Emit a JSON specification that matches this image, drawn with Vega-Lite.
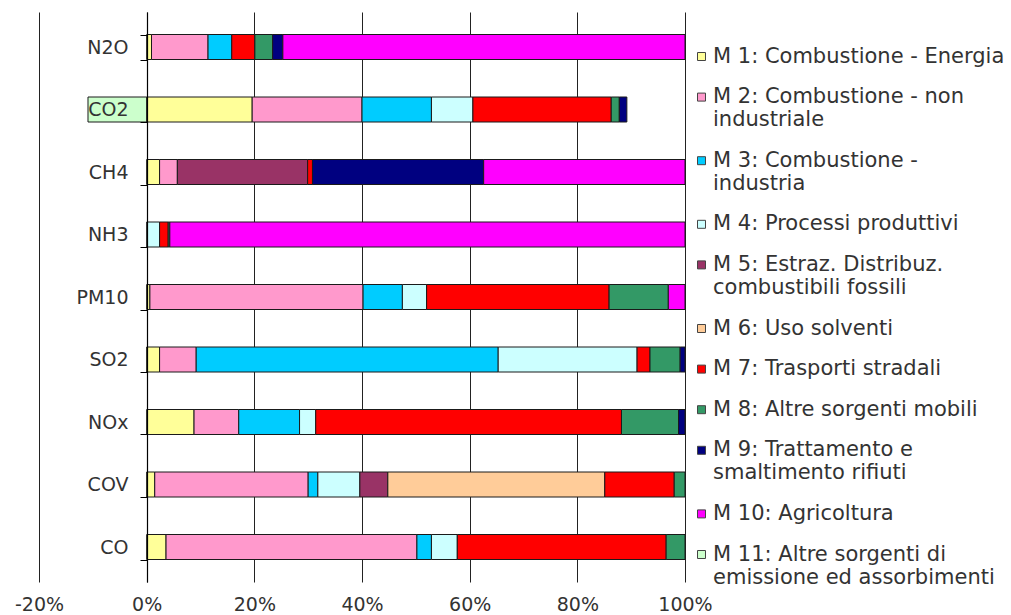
{
  "$schema": "https://vega.github.io/schema/vega-lite/v6.json",
  "width": 646,
  "height": 570,
  "autosize": {"type": "none"},
  "padding": {"left": 39, "top": 12, "right": 326, "bottom": 33},
  "background": "white",
  "config": {
    "view": {"stroke": null},
    "font": "DejaVu Sans"
  },
  "data": {
    "values": [
      {"inquinante": "N2O", "m": 1, "fonte": "M 1: Combustione - Energia", "quota": 0.9},
      {"inquinante": "N2O", "m": 2, "fonte": "M 2: Combustione - non industriale", "quota": 10.5},
      {"inquinante": "N2O", "m": 3, "fonte": "M 3: Combustione - industria", "quota": 4.4},
      {"inquinante": "N2O", "m": 7, "fonte": "M 7: Trasporti stradali", "quota": 4.3},
      {"inquinante": "N2O", "m": 8, "fonte": "M 8: Altre sorgenti mobili", "quota": 3.3},
      {"inquinante": "N2O", "m": 9, "fonte": "M 9: Trattamento e smaltimento rifiuti", "quota": 1.9},
      {"inquinante": "N2O", "m": 10, "fonte": "M 10: Agricoltura", "quota": 74.7},

      {"inquinante": "CO2", "m": 1, "fonte": "M 1: Combustione - Energia", "quota": 19.6},
      {"inquinante": "CO2", "m": 2, "fonte": "M 2: Combustione - non industriale", "quota": 20.4},
      {"inquinante": "CO2", "m": 3, "fonte": "M 3: Combustione - industria", "quota": 12.9},
      {"inquinante": "CO2", "m": 4, "fonte": "M 4: Processi produttivi", "quota": 7.7},
      {"inquinante": "CO2", "m": 7, "fonte": "M 7: Trasporti stradali", "quota": 25.7},
      {"inquinante": "CO2", "m": 8, "fonte": "M 8: Altre sorgenti mobili", "quota": 1.5},
      {"inquinante": "CO2", "m": 9, "fonte": "M 9: Trattamento e smaltimento rifiuti", "quota": 1.4},
      {"inquinante": "CO2", "m": 11, "fonte": "M 11: Altre sorgenti di emissione ed assorbimenti", "quota": -10.9},

      {"inquinante": "CH4", "m": 1, "fonte": "M 1: Combustione - Energia", "quota": 2.4},
      {"inquinante": "CH4", "m": 2, "fonte": "M 2: Combustione - non industriale", "quota": 3.3},
      {"inquinante": "CH4", "m": 5, "fonte": "M 5: Estraz. Distribuz. combustibili fossili", "quota": 24.2},
      {"inquinante": "CH4", "m": 7, "fonte": "M 7: Trasporti stradali", "quota": 0.9},
      {"inquinante": "CH4", "m": 9, "fonte": "M 9: Trattamento e smaltimento rifiuti", "quota": 31.8},
      {"inquinante": "CH4", "m": 10, "fonte": "M 10: Agricoltura", "quota": 37.4},

      {"inquinante": "NH3", "m": 4, "fonte": "M 4: Processi produttivi", "quota": 2.4},
      {"inquinante": "NH3", "m": 7, "fonte": "M 7: Trasporti stradali", "quota": 1.6},
      {"inquinante": "NH3", "m": 8, "fonte": "M 8: Altre sorgenti mobili", "quota": 0.3},
      {"inquinante": "NH3", "m": 10, "fonte": "M 10: Agricoltura", "quota": 95.7},

      {"inquinante": "PM10", "m": 1, "fonte": "M 1: Combustione - Energia", "quota": 0.6},
      {"inquinante": "PM10", "m": 2, "fonte": "M 2: Combustione - non industriale", "quota": 39.6},
      {"inquinante": "PM10", "m": 3, "fonte": "M 3: Combustione - industria", "quota": 7.3},
      {"inquinante": "PM10", "m": 4, "fonte": "M 4: Processi produttivi", "quota": 4.5},
      {"inquinante": "PM10", "m": 7, "fonte": "M 7: Trasporti stradali", "quota": 33.9},
      {"inquinante": "PM10", "m": 8, "fonte": "M 8: Altre sorgenti mobili", "quota": 11.0},
      {"inquinante": "PM10", "m": 10, "fonte": "M 10: Agricoltura", "quota": 3.1},

      {"inquinante": "SO2", "m": 1, "fonte": "M 1: Combustione - Energia", "quota": 2.4},
      {"inquinante": "SO2", "m": 2, "fonte": "M 2: Combustione - non industriale", "quota": 6.8},
      {"inquinante": "SO2", "m": 3, "fonte": "M 3: Combustione - industria", "quota": 56.1},
      {"inquinante": "SO2", "m": 4, "fonte": "M 4: Processi produttivi", "quota": 25.8},
      {"inquinante": "SO2", "m": 7, "fonte": "M 7: Trasporti stradali", "quota": 2.4},
      {"inquinante": "SO2", "m": 8, "fonte": "M 8: Altre sorgenti mobili", "quota": 5.6},
      {"inquinante": "SO2", "m": 9, "fonte": "M 9: Trattamento e smaltimento rifiuti", "quota": 0.9},

      {"inquinante": "NOx", "m": 1, "fonte": "M 1: Combustione - Energia", "quota": 8.8},
      {"inquinante": "NOx", "m": 2, "fonte": "M 2: Combustione - non industriale", "quota": 8.3},
      {"inquinante": "NOx", "m": 3, "fonte": "M 3: Combustione - industria", "quota": 11.3},
      {"inquinante": "NOx", "m": 4, "fonte": "M 4: Processi produttivi", "quota": 3.0},
      {"inquinante": "NOx", "m": 7, "fonte": "M 7: Trasporti stradali", "quota": 56.8},
      {"inquinante": "NOx", "m": 8, "fonte": "M 8: Altre sorgenti mobili", "quota": 10.6},
      {"inquinante": "NOx", "m": 9, "fonte": "M 9: Trattamento e smaltimento rifiuti", "quota": 1.2},

      {"inquinante": "COV", "m": 1, "fonte": "M 1: Combustione - Energia", "quota": 1.5},
      {"inquinante": "COV", "m": 2, "fonte": "M 2: Combustione - non industriale", "quota": 28.5},
      {"inquinante": "COV", "m": 3, "fonte": "M 3: Combustione - industria", "quota": 1.8},
      {"inquinante": "COV", "m": 4, "fonte": "M 4: Processi produttivi", "quota": 7.8},
      {"inquinante": "COV", "m": 5, "fonte": "M 5: Estraz. Distribuz. combustibili fossili", "quota": 5.2},
      {"inquinante": "COV", "m": 6, "fonte": "M 6: Uso solventi", "quota": 40.3},
      {"inquinante": "COV", "m": 7, "fonte": "M 7: Trasporti stradali", "quota": 12.9},
      {"inquinante": "COV", "m": 8, "fonte": "M 8: Altre sorgenti mobili", "quota": 2.0},

      {"inquinante": "CO", "m": 1, "fonte": "M 1: Combustione - Energia", "quota": 3.6},
      {"inquinante": "CO", "m": 2, "fonte": "M 2: Combustione - non industriale", "quota": 46.6},
      {"inquinante": "CO", "m": 3, "fonte": "M 3: Combustione - industria", "quota": 2.7},
      {"inquinante": "CO", "m": 4, "fonte": "M 4: Processi produttivi", "quota": 4.8},
      {"inquinante": "CO", "m": 7, "fonte": "M 7: Trasporti stradali", "quota": 38.8},
      {"inquinante": "CO", "m": 8, "fonte": "M 8: Altre sorgenti mobili", "quota": 3.5}
    ]
  },
  "mark": {"type": "bar", "stroke": "#1a1a1a", "strokeWidth": 1},
  "encoding": {
    "y": {
      "field": "inquinante",
      "type": "nominal",
      "sort": ["N2O", "CO2", "CH4", "NH3", "PM10", "SO2", "NOx", "COV", "CO"],
      "scale": {"paddingInner": 0.6, "paddingOuter": 0.36},
      "axis": {
        "title": null,
        "offset": -108,
        "zindex": 1,
        "domainColor": "#000000",
        "domainWidth": 1.2,
        "tickBand": "extent",
        "tickColor": "#000000",
        "tickSize": 7,
        "labelFontSize": 19,
        "labelColor": "#333333",
        "labelPadding": 12,
        "grid": false
      }
    },
    "x": {
      "field": "quota",
      "type": "quantitative",
      "stack": "zero",
      "scale": {"domain": [-20, 100], "nice": false},
      "axis": {
        "title": null,
        "values": [-20, 0, 20, 40, 60, 80, 100],
        "labelExpr": "datum.value + '%'",
        "labelFlush": false,
        "labelOverlap": false,
        "grid": true,
        "gridColor": "#222222",
        "gridWidth": 1,
        "domain": false,
        "ticks": false,
        "labelFontSize": 19,
        "labelColor": "#333333",
        "labelPadding": 13
      }
    },
    "order": {"field": "m", "type": "quantitative", "sort": "ascending"},
    "color": {
      "field": "fonte",
      "type": "nominal",
      "scale": {
        "domain": [
          "M 1: Combustione - Energia",
          "M 2: Combustione - non industriale",
          "M 3: Combustione - industria",
          "M 4: Processi produttivi",
          "M 5: Estraz. Distribuz. combustibili fossili",
          "M 6: Uso solventi",
          "M 7: Trasporti stradali",
          "M 8: Altre sorgenti mobili",
          "M 9: Trattamento e smaltimento rifiuti",
          "M 10: Agricoltura",
          "M 11: Altre sorgenti di emissione ed assorbimenti"
        ],
        "range": ["#FFFF99", "#FF99CC", "#00CCFF", "#CCFFFF", "#993366", "#FFCC99", "#FF0000", "#339966", "#000080", "#FF00FF", "#CCFFCC"]
      },
      "legend": {
        "title": null,
        "orient": "none",
        "legendX": 652,
        "legendY": 34,
        "symbolType": "square",
        "symbolSize": 64,
        "symbolStrokeColor": "#444444",
        "symbolStrokeWidth": 1,
        "labelFontSize": 21,
        "labelLineHeight": 20,
        "labelColor": "#333333",
        "labelLimit": 400,
        "labelOffset": 1,
        "rowPadding": 18.6,
        "labelExpr": "split(replace(replace(replace(replace(replace(datum.label, 'non ', 'non|'), ' - industria', ' -|industria'), 'Distribuz. ', 'Distribuz.|'), 'e smaltimento', 'e|smaltimento'), 'di emissione', 'di|emissione'), '|')"
      }
    }
  }
}
